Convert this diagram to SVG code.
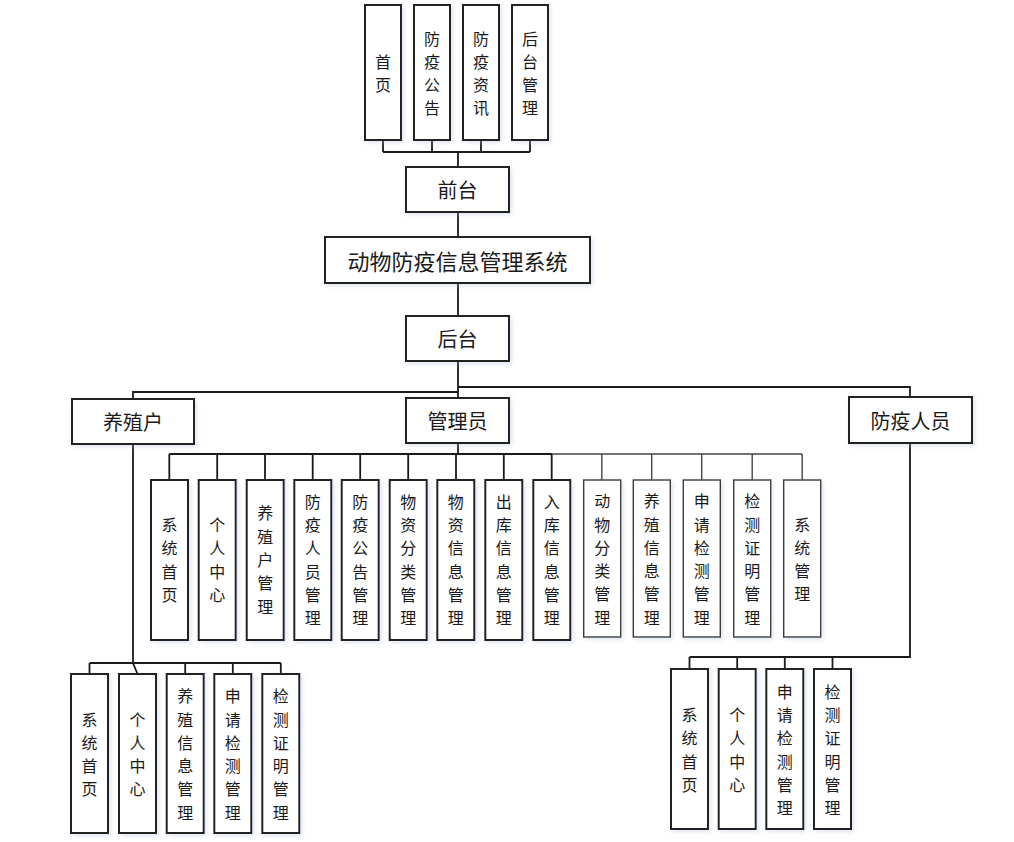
<svg xmlns="http://www.w3.org/2000/svg" width="1014" height="842" viewBox="0 0 1014 842">
<style>
  .bg{fill:#ffffff}
  .box{fill:#ffffff;stroke:#222;stroke-width:2;filter:url(#sh)}
  .lbox{fill:#ffffff;stroke:#3a3a3a;stroke-width:1.4;filter:url(#sh)}
  .ln{fill:none;stroke:#1a1a1a;stroke-width:1.8}
  .lnl{fill:none;stroke:#444;stroke-width:1.4}
  text{font-family:"Noto Sans CJK SC","Noto Sans",sans-serif;fill:#1a1a1a;dominant-baseline:central;text-anchor:middle}
  .v{font-size:16px}
  .h{font-size:20px}
  .t{font-size:22px}
</style>
<defs>
  <filter id="sh" x="-20%" y="-20%" width="140%" height="140%">
    <feDropShadow dx="2" dy="2" stdDeviation="2" flood-color="#9fb4d8" flood-opacity="0.35"/>
  </filter>
</defs>
<rect class="bg" x="0" y="0" width="1014" height="842"/>

<g id="connectors">
  <path class="ln" d="M383 140V152M432 140V152M481 140V152M530 140V152M383 152H530M458 152V167"/>
  <path class="ln" d="M458 212V237M458 283V316M458 361V398"/>
  <path class="ln" d="M458 387H910V397M458 392H133V399"/>
  <path class="ln" d="M458 443V454M169.3 454H552M169.3 454V480M217.2 454V480M265 454V480M312.7 454V480M360.2 454V480M408.2 454V480M456 454V480M503.8 454V480M551.7 454V480"/>
  <path class="lnl" d="M552 454H802.2M601.8 454V480M651.7 454V480M701.7 454V480M752.2 454V480M802.2 454V480"/>
  <path class="ln" d="M133 444V663L137.5 674M89.5 663H280.8M89.5 663V674M185.2 663V674M232.8 663V674M280.8 663V674"/>
  <path class="ln" d="M910 443V657H689.5M689.5 657V669M737.2 657V669M784.8 657V669M832.5 657V669"/>
</g>

<g id="n-shouye"><rect class="box" x="365" y="5" width="36" height="135"/>
  <text class="v" x="383" y="60.85">首</text><text class="v" x="383" y="84.15">页</text></g>
<g id="n-gonggao"><rect class="box" x="414" y="5" width="36" height="135"/>
  <text class="v" x="432" y="37.55">防</text><text class="v" x="432" y="60.85">疫</text><text class="v" x="432" y="84.15">公</text><text class="v" x="432" y="107.45">告</text></g>
<g id="n-zixun"><rect class="box" x="463" y="5" width="36" height="135"/>
  <text class="v" x="481" y="37.55">防</text><text class="v" x="481" y="60.85">疫</text><text class="v" x="481" y="84.15">资</text><text class="v" x="481" y="107.45">讯</text></g>
<g id="n-houtaiguanli"><rect class="box" x="512" y="5" width="36" height="135"/>
  <text class="v" x="530" y="37.55">后</text><text class="v" x="530" y="60.85">台</text><text class="v" x="530" y="84.15">管</text><text class="v" x="530" y="107.45">理</text></g>

<g id="n-qiantai"><rect class="box" x="406" y="167" width="103" height="45"/>
  <text class="h" x="457.5" y="189.5">前台</text></g>
<g id="n-system"><rect class="box" x="325" y="237" width="265" height="46"/>
  <text class="t" x="457.5" y="260">动物防疫信息管理系统</text></g>
<g id="n-houtai"><rect class="box" x="406" y="316" width="103" height="45"/>
  <text class="h" x="457.5" y="338.5">后台</text></g>

<g id="n-yangzhihu"><rect class="box" x="72" y="399" width="122" height="45"/>
  <text class="h" x="133" y="421.5">养殖户</text></g>
<g id="n-admin"><rect class="box" x="406" y="398" width="103" height="45"/>
  <text class="h" x="457.5" y="420.5">管理员</text></g>
<g id="n-fangyi"><rect class="box" x="849" y="397" width="123" height="46"/>
  <text class="h" x="910.5" y="420">防疫人员</text></g>

<g id="a1"><rect class="box" x="151" y="480" width="37" height="160"/>
  <text class="v" x="169.5" y="524.05">系</text><text class="v" x="169.5" y="547.35">统</text><text class="v" x="169.5" y="570.65">首</text><text class="v" x="169.5" y="593.95">页</text></g>
<g id="a2"><rect class="box" x="198.7" y="480" width="37" height="160"/>
  <text class="v" x="217.2" y="524.05">个</text><text class="v" x="217.2" y="547.35">人</text><text class="v" x="217.2" y="570.65">中</text><text class="v" x="217.2" y="593.95">心</text></g>
<g id="a3"><rect class="box" x="246.7" y="480" width="37" height="160"/>
  <text class="v" x="265.2" y="512.4">养</text><text class="v" x="265.2" y="535.7">殖</text><text class="v" x="265.2" y="559">户</text><text class="v" x="265.2" y="582.3">管</text><text class="v" x="265.2" y="605.6">理</text></g>
<g id="a4"><rect class="box" x="294.3" y="480" width="37" height="160"/>
  <text class="v" x="312.8" y="500.75">防</text><text class="v" x="312.8" y="524.05">疫</text><text class="v" x="312.8" y="547.35">人</text><text class="v" x="312.8" y="570.65">员</text><text class="v" x="312.8" y="593.95">管</text><text class="v" x="312.8" y="617.25">理</text></g>
<g id="a5"><rect class="box" x="341.7" y="480" width="37" height="160"/>
  <text class="v" x="360.2" y="500.75">防</text><text class="v" x="360.2" y="524.05">疫</text><text class="v" x="360.2" y="547.35">公</text><text class="v" x="360.2" y="570.65">告</text><text class="v" x="360.2" y="593.95">管</text><text class="v" x="360.2" y="617.25">理</text></g>
<g id="a6"><rect class="box" x="389.7" y="480" width="37" height="160"/>
  <text class="v" x="408.2" y="500.75">物</text><text class="v" x="408.2" y="524.05">资</text><text class="v" x="408.2" y="547.35">分</text><text class="v" x="408.2" y="570.65">类</text><text class="v" x="408.2" y="593.95">管</text><text class="v" x="408.2" y="617.25">理</text></g>
<g id="a7"><rect class="box" x="437.3" y="480" width="37" height="160"/>
  <text class="v" x="455.8" y="500.75">物</text><text class="v" x="455.8" y="524.05">资</text><text class="v" x="455.8" y="547.35">信</text><text class="v" x="455.8" y="570.65">息</text><text class="v" x="455.8" y="593.95">管</text><text class="v" x="455.8" y="617.25">理</text></g>
<g id="a8"><rect class="box" x="485.3" y="480" width="37" height="160"/>
  <text class="v" x="503.8" y="500.75">出</text><text class="v" x="503.8" y="524.05">库</text><text class="v" x="503.8" y="547.35">信</text><text class="v" x="503.8" y="570.65">息</text><text class="v" x="503.8" y="593.95">管</text><text class="v" x="503.8" y="617.25">理</text></g>
<g id="a9"><rect class="box" x="533.3" y="480" width="37" height="160"/>
  <text class="v" x="551.8" y="500.75">入</text><text class="v" x="551.8" y="524.05">库</text><text class="v" x="551.8" y="547.35">信</text><text class="v" x="551.8" y="570.65">息</text><text class="v" x="551.8" y="593.95">管</text><text class="v" x="551.8" y="617.25">理</text></g>
<g id="a10"><rect class="lbox" x="583.7" y="480" width="37" height="157"/>
  <text class="v" x="602.2" y="500.25">动</text><text class="v" x="602.2" y="523.55">物</text><text class="v" x="602.2" y="546.85">分</text><text class="v" x="602.2" y="570.15">类</text><text class="v" x="602.2" y="593.45">管</text><text class="v" x="602.2" y="616.75">理</text></g>
<g id="a11"><rect class="lbox" x="633.3" y="480" width="37" height="157"/>
  <text class="v" x="651.8" y="500.25">养</text><text class="v" x="651.8" y="523.55">殖</text><text class="v" x="651.8" y="546.85">信</text><text class="v" x="651.8" y="570.15">息</text><text class="v" x="651.8" y="593.45">管</text><text class="v" x="651.8" y="616.75">理</text></g>
<g id="a12"><rect class="lbox" x="683.3" y="480" width="37" height="157"/>
  <text class="v" x="701.8" y="500.25">申</text><text class="v" x="701.8" y="523.55">请</text><text class="v" x="701.8" y="546.85">检</text><text class="v" x="701.8" y="570.15">测</text><text class="v" x="701.8" y="593.45">管</text><text class="v" x="701.8" y="616.75">理</text></g>
<g id="a13"><rect class="lbox" x="733.7" y="480" width="37" height="157"/>
  <text class="v" x="752.2" y="500.25">检</text><text class="v" x="752.2" y="523.55">测</text><text class="v" x="752.2" y="546.85">证</text><text class="v" x="752.2" y="570.15">明</text><text class="v" x="752.2" y="593.45">管</text><text class="v" x="752.2" y="616.75">理</text></g>
<g id="a14"><rect class="lbox" x="783.7" y="480" width="37" height="157"/>
  <text class="v" x="802.2" y="523.55">系</text><text class="v" x="802.2" y="546.85">统</text><text class="v" x="802.2" y="570.15">管</text><text class="v" x="802.2" y="593.45">理</text></g>

<g id="f1"><rect class="box" x="71" y="674" width="37" height="159"/>
  <text class="v" x="89.5" y="718.55">系</text><text class="v" x="89.5" y="741.85">统</text><text class="v" x="89.5" y="765.15">首</text><text class="v" x="89.5" y="788.45">页</text></g>
<g id="f2"><rect class="box" x="119" y="674" width="37" height="159"/>
  <text class="v" x="137.5" y="718.55">个</text><text class="v" x="137.5" y="741.85">人</text><text class="v" x="137.5" y="765.15">中</text><text class="v" x="137.5" y="788.45">心</text></g>
<g id="f3"><rect class="box" x="166.7" y="674" width="37" height="159"/>
  <text class="v" x="185.2" y="695.25">养</text><text class="v" x="185.2" y="718.55">殖</text><text class="v" x="185.2" y="741.85">信</text><text class="v" x="185.2" y="765.15">息</text><text class="v" x="185.2" y="788.45">管</text><text class="v" x="185.2" y="811.75">理</text></g>
<g id="f4"><rect class="box" x="214.3" y="674" width="37" height="159"/>
  <text class="v" x="232.8" y="695.25">申</text><text class="v" x="232.8" y="718.55">请</text><text class="v" x="232.8" y="741.85">检</text><text class="v" x="232.8" y="765.15">测</text><text class="v" x="232.8" y="788.45">管</text><text class="v" x="232.8" y="811.75">理</text></g>
<g id="f5"><rect class="box" x="262.3" y="674" width="37" height="159"/>
  <text class="v" x="280.8" y="695.25">检</text><text class="v" x="280.8" y="718.55">测</text><text class="v" x="280.8" y="741.85">证</text><text class="v" x="280.8" y="765.15">明</text><text class="v" x="280.8" y="788.45">管</text><text class="v" x="280.8" y="811.75">理</text></g>

<g id="p1"><rect class="box" x="671" y="669" width="37" height="160"/>
  <text class="v" x="689.5" y="714.05">系</text><text class="v" x="689.5" y="737.35">统</text><text class="v" x="689.5" y="760.65">首</text><text class="v" x="689.5" y="783.95">页</text></g>
<g id="p2"><rect class="box" x="718.7" y="669" width="37" height="160"/>
  <text class="v" x="737.2" y="714.05">个</text><text class="v" x="737.2" y="737.35">人</text><text class="v" x="737.2" y="760.65">中</text><text class="v" x="737.2" y="783.95">心</text></g>
<g id="p3"><rect class="box" x="766.3" y="669" width="37" height="160"/>
  <text class="v" x="784.8" y="690.75">申</text><text class="v" x="784.8" y="714.05">请</text><text class="v" x="784.8" y="737.35">检</text><text class="v" x="784.8" y="760.65">测</text><text class="v" x="784.8" y="783.95">管</text><text class="v" x="784.8" y="807.25">理</text></g>
<g id="p4"><rect class="box" x="814" y="669" width="37" height="160"/>
  <text class="v" x="832.5" y="690.75">检</text><text class="v" x="832.5" y="714.05">测</text><text class="v" x="832.5" y="737.35">证</text><text class="v" x="832.5" y="760.65">明</text><text class="v" x="832.5" y="783.95">管</text><text class="v" x="832.5" y="807.25">理</text></g>
</svg>
